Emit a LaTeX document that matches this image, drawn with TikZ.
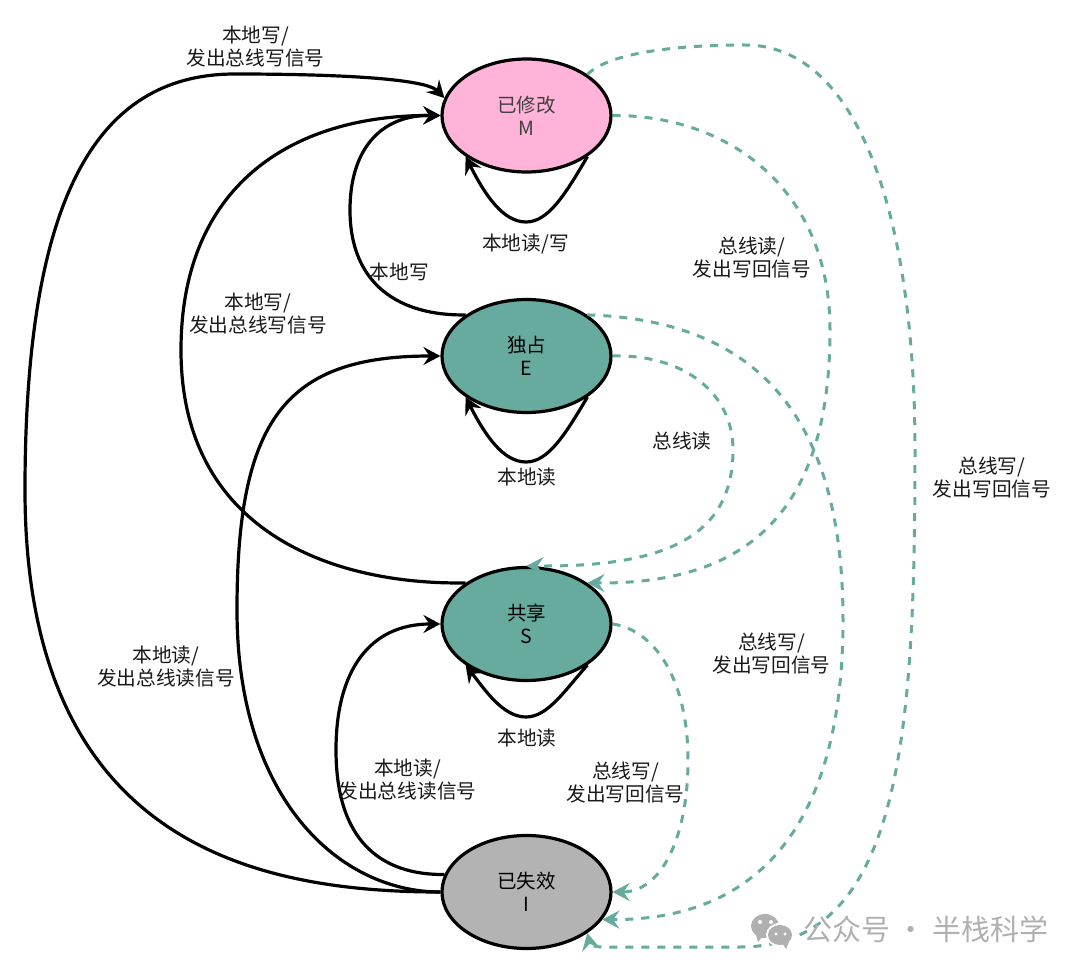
\documentclass[tikz,border=0pt]{standalone}
\usepackage{fontspec}
\setmainfont{Noto Sans CJK SC}
\usetikzlibrary{arrows.meta,shapes.geometric}

\tikzset{
  state/.style={draw=black,line width=3.2pt,ellipse,minimum width=169pt,minimum height=113pt,inner sep=0pt,
    align=center,font=\fontsize{19.5}{23}\selectfont},
  lbl/.style={align=center,font=\fontsize{19.7}{23}\selectfont,text=black!90},
  local/.style={draw=black,line width=3.2pt,-{Stealth[length=17pt,width=18pt,inset=6pt]}},
  bus/.style={draw=busgreen,line width=3pt,dash pattern=on 8pt off 8pt,
    -{Stealth[length=17pt,width=18pt,inset=6pt,fill=busgreen]}},
}
\definecolor{busgreen}{HTML}{67AB9F}
\definecolor{pinkfill}{HTML}{FFB3D9}
\definecolor{greyfill}{HTML}{B3B3B3}
\definecolor{markgrey}{HTML}{B0B0B0}

\begin{document}
\begin{tikzpicture}[x=1pt,y=-1pt]
  \useasboundingbox (0,0) rectangle (1080,973);

  \node[state,fill=pinkfill,text=black!75] (modified) at (526.5,115.5) {已修改\\M};
  \node[state,fill=busgreen] (exclusive) at (526.5,356) {独占\\E};
  \node[state,fill=busgreen] (shared) at (526.5,624) {共享\\S};
  \node[state,fill=greyfill] (invalid) at (526.5,892) {已失效\\I};

  \draw[local] (invalid.west) .. controls (250,892) and (25,840) .. (25,490)
    .. controls (25,200) and (95,74) .. (235,74) .. controls (330,74) and (425,78) .. (modified.168);
  \draw[local] (shared.north west) .. controls (330,585) and (181,530) .. (181,350)
    .. controls (181,187) and (290,115) .. (modified.west);
  \draw[local] (exclusive.north west) .. controls (400,316) and (350,285) .. (350,210)
    .. controls (350,150) and (380,115) .. (modified.west);
  \draw[local] (invalid.west) .. controls (340,892) and (237,800) .. (237,610)
    .. controls (237,420) and (285,356) .. (exclusive.west);
  \draw[local] (invalid.168) .. controls (380,875) and (336,840) .. (336,750)
    .. controls (336,670) and (370,624) .. (shared.west);

  \draw[local] (modified.south east) .. controls (565,195) and (548,222) .. (526,222)
    .. controls (503,222) and (485,195) .. (modified.south west);
  \draw[local] (exclusive.south east) .. controls (565,435) and (548,462) .. (526,462)
    .. controls (503,462) and (485,435) .. (exclusive.south west);
  \draw[local] (shared.south east) .. controls (565,690) and (548,717) .. (526,717)
    .. controls (503,717) and (485,690) .. (shared.south west);

  \draw[bus] (modified.north east) .. controls (610,52) and (680,45) .. (745,45)
    .. controls (860,45) and (915,220) .. (915,450)
    .. controls (915,740) and (900,947) .. (740,947)
    .. controls (680,947) and (640,947) .. (603,947)
    .. controls (595,947) and (590,945) .. (invalid.south east);
  \draw[bus] (modified.east) .. controls (730,115) and (830,190) .. (830,330)
    .. controls (830,520) and (740,584) .. (shared.north east);
  \draw[bus] (exclusive.north east) .. controls (760,320) and (843,420) .. (843,620)
    .. controls (843,810) and (770,920) .. (invalid.-20);
  \draw[bus] (exclusive.east) .. controls (680,354) and (733,390) .. (733,450)
    .. controls (733,540) and (660,567) .. (shared.north);
  \draw[bus] (shared.east) .. controls (655,630) and (688,680) .. (688,760)
    .. controls (688,840) and (660,892) .. (invalid.east);

  \node[lbl] (l1) at (255.5,46.5) {本地写/\\发出总线写信号};
  \node[lbl] (l2) at (525.5,244) {本地读/写};
  \node[lbl] (l3) at (399.5,272) {本地写};
  \node[lbl] (l4) at (752,258) {总线读/\\发出写回信号};
  \node[lbl] (l5) at (258,314) {本地写/\\发出总线写信号};
  \node[lbl] (l6) at (682,441) {总线读};
  \node[lbl] (l7) at (527,477) {本地读};
  \node[lbl] (l8) at (992,478) {总线写/\\发出写回信号};
  \node[lbl] (l9) at (771.5,654) {总线写/\\发出写回信号};
  \node[lbl] (l10) at (166,667) {本地读/\\发出总线读信号};
  \node[lbl] (l11) at (527,738) {本地读};
  \node[lbl] (l12) at (407.5,780) {本地读/\\发出总线读信号};
  \node[lbl] (l13) at (625.5,783) {总线写/\\发出写回信号};

  \fill[markgrey] (765,926) ellipse (14pt and 12pt);
  \fill[markgrey] (758,942) -- (756,935) -- (764,935) -- cycle;
  \fill[white] (780,935) ellipse (14pt and 12pt);
  \fill[markgrey] (780,935) ellipse (12pt and 10pt);
  \fill[markgrey] (786,949) -- (789,942) -- (782,943) -- cycle;
  \fill[white] (760,922) circle (2pt) (771,922) circle (2pt) (776,934) circle (1.6pt) (785,934) circle (1.6pt);
  \node[anchor=west,inner sep=0pt,text=markgrey,font=\fontsize{29}{32}\selectfont] (mark) at (803,929) {公众号 · 半栈科学};
\end{tikzpicture}
\end{document}
